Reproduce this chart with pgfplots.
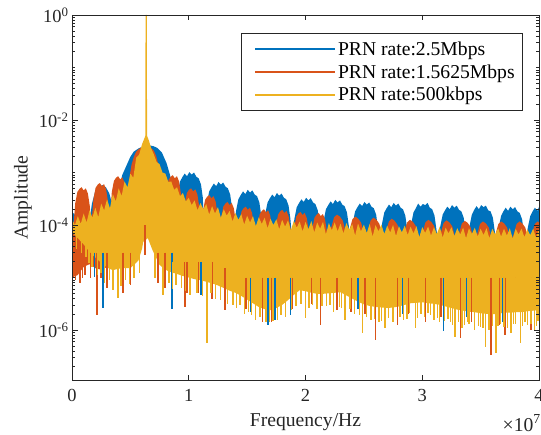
\documentclass[border=0pt]{standalone}
\usepackage{fontspec}
\setmainfont{Liberation Serif}
\usepackage{pgfplots}
\pgfplotsset{compat=1.18}
\usepgfplotslibrary{fillbetween}
\definecolor{mblue}{rgb}{0,0.447,0.741}
\definecolor{mred}{rgb}{0.850,0.325,0.098}
\definecolor{myel}{rgb}{0.929,0.694,0.125}
\definecolor{axgray}{rgb}{0.15,0.15,0.15}
\begin{document}
\begin{tikzpicture}
\begin{axis}[
  name=ax,
  scale only axis, width=467bp, height=365bp,
  xmin=0, xmax=40, ymin=1.12e-7, ymax=1,
  ymode=log,
  axis on top,
  xtick={0,10,20,30,40}, xticklabels={0,1,2,3,4},
  ytick={1e-6,1e-4,1e-2,1},
  yticklabels={{10\textsuperscript{-6}},{10\textsuperscript{-4}},{10\textsuperscript{-2}},{10\textsuperscript{0}}},
  minor ytick={2e-7,3e-7,4e-7,5e-7,6e-7,7e-7,8e-7,9e-7,2e-6,3e-6,4e-6,5e-6,6e-6,7e-6,8e-6,9e-6,1e-5,2e-5,3e-5,4e-5,5e-5,6e-5,7e-5,8e-5,9e-5,2e-4,3e-4,4e-4,5e-4,6e-4,7e-4,8e-4,9e-4,1e-3,2e-3,3e-3,4e-3,5e-3,6e-3,7e-3,8e-3,9e-3,2e-2,3e-2,4e-2,5e-2,6e-2,7e-2,8e-2,9e-2,1e-1,2e-1,3e-1,4e-1,5e-1,6e-1,7e-1,8e-1,9e-1},
  tick align=inside,
  major tick length=5.5bp, minor tick length=3bp,
  axis line style={draw=axgray, line width=0.8bp},
  every tick/.append style={draw=axgray, line width=0.6bp},
  tick label style={font=\fontsize{18.5}{22}\selectfont, text=axgray},
  xticklabel style={yshift=-6bp},
  xlabel={Frequency/Hz}, ylabel={Amplitude},
  xlabel style={at={(axis description cs:0.5,-0.0904)}, anchor=north, inner sep=0pt, font=\fontsize{19.7}{24}\selectfont, text=axgray},
  ylabel style={at={(axis description cs:-0.0857,0.5)}, anchor=south, inner sep=0pt, font=\fontsize{19.7}{24}\selectfont, text=axgray},
  legend style={at={(0.9657,0.9507)}, anchor=north east, draw=axgray, line width=0.7bp, fill=white, font=\fontsize{19.7}{23.6}\selectfont, inner xsep=6bp, inner ysep=6.5bp, row sep=3.5bp, /tikz/every even column/.append style={column sep=2bp}},
  legend cell align=left,
  legend image code/.code={\path (-7bp,0bp); \draw[#1, line width=2bp] (0bp,0bp) -- (80bp,0bp);},
]
\addlegendimage{mblue}\addlegendentry{PRN rate:2.5Mbps}
\addlegendimage{mred}\addlegendentry{PRN rate:1.5625Mbps}
\addlegendimage{myel}\addlegendentry{PRN rate:500kbps}

% ---------------- 2.5 Mbps (blue) ----------------
\addplot[name path=bt, draw=none, forget plot] coordinates {
(0,1.50e-4) (0.1,1.70e-4) (0.6,1.30e-4) (1.0,1.00e-4) (1.35,6.31e-5) (1.7,2.51e-4) (2.0,4.47e-4) (2.3,5.37e-4) (2.6,5.75e-4) (2.9,5.25e-4) (3.2,3.98e-4) (3.55,2.00e-4) (3.85,1.00e-4) (4.05,5.01e-4) (4.3,8.91e-4) (4.6,1.26e-3) (5.0,2.00e-3) (5.3,2.51e-3) (5.7,2.88e-3) (6.1,3.16e-3) (6.6,3.31e-3) (7.0,3.16e-3) (7.3,2.95e-3) (7.7,2.40e-3) (8.1,1.51e-3) (8.4,8.91e-4) (8.65,4.47e-4) (8.85,6.31e-5)
(9.05,4.07e-4) (9.25,6.76e-4) (9.45,8.13e-4) (9.65,9.55e-4) (9.85,8.51e-4) (10.05,1.02e-3) (10.25,9.12e-4) (10.45,1.00e-3) (10.65,8.32e-4) (10.85,7.76e-4) (11.05,5.89e-4) (11.2,3.39e-4) (11.35,6.31e-5)
(11.55,2.63e-4) (11.75,4.37e-4) (11.95,5.25e-4) (12.15,6.17e-4) (12.35,5.50e-4) (12.55,6.61e-4) (12.75,5.89e-4) (12.95,6.46e-4) (13.15,5.37e-4) (13.35,5.01e-4) (13.55,3.80e-4) (13.7,2.19e-4) (13.85,6.31e-5)
(14.05,1.86e-4) (14.25,3.09e-4) (14.45,3.72e-4) (14.65,4.37e-4) (14.85,3.89e-4) (15.05,4.68e-4) (15.25,4.17e-4) (15.45,4.57e-4) (15.65,3.80e-4) (15.85,3.55e-4) (16.05,2.69e-4) (16.2,1.55e-4) (16.35,5.62e-5)
(16.55,1.62e-4) (16.75,2.69e-4) (16.95,3.24e-4) (17.15,3.80e-4) (17.35,3.39e-4) (17.55,4.07e-4) (17.75,3.63e-4) (17.95,3.98e-4) (18.15,3.31e-4) (18.35,3.09e-4) (18.55,2.34e-4) (18.7,1.35e-4) (18.85,5.62e-5)
(19.05,1.32e-4) (19.25,2.19e-4) (19.45,2.63e-4) (19.65,3.09e-4) (19.85,2.75e-4) (20.05,3.31e-4) (20.25,2.95e-4) (20.45,3.24e-4) (20.65,2.69e-4) (20.85,2.51e-4) (21.05,1.91e-4) (21.2,1.10e-4) (21.35,5.01e-5)
(21.55,1.20e-4) (21.75,2.00e-4) (21.95,2.40e-4) (22.15,2.82e-4) (22.35,2.51e-4) (22.55,3.02e-4) (22.75,2.69e-4) (22.95,2.95e-4) (23.15,2.45e-4) (23.35,2.29e-4) (23.55,1.74e-4) (23.7,1.00e-4) (23.85,5.01e-5)
(24.05,1.10e-4) (24.25,1.82e-4) (24.45,2.19e-4) (24.65,2.57e-4) (24.85,2.29e-4) (25.05,2.75e-4) (25.25,2.45e-4) (25.45,2.69e-4) (25.65,2.24e-4) (25.85,2.09e-4) (26.05,1.58e-4) (26.2,9.12e-5) (26.35,5.01e-5)
(26.55,1.05e-4) (26.75,1.74e-4) (26.95,2.09e-4) (27.15,2.45e-4) (27.35,2.19e-4) (27.55,2.63e-4) (27.75,2.34e-4) (27.95,2.57e-4) (28.15,2.14e-4) (28.35,2.00e-4) (28.55,1.51e-4) (28.7,8.71e-5) (28.85,5.01e-5)
(29.05,1.05e-4) (29.25,1.74e-4) (29.45,2.09e-4) (29.65,2.57e-4) (29.85,2.24e-4) (30.05,2.51e-4) (30.25,2.40e-4) (30.45,2.63e-4) (30.65,2.14e-4) (30.85,2.00e-4) (31.05,1.51e-4) (31.2,8.71e-5) (31.35,5.01e-5)
(31.55,9.55e-5) (31.75,1.58e-4) (31.95,1.91e-4) (32.15,2.24e-4) (32.35,2.00e-4) (32.55,2.40e-4) (32.75,2.14e-4) (32.95,2.34e-4) (33.15,1.95e-4) (33.35,1.82e-4) (33.55,1.38e-4) (33.7,7.94e-5) (33.85,5.01e-5)
(34.05,9.55e-5) (34.25,1.58e-4) (34.45,1.95e-4) (34.65,2.29e-4) (34.85,2.00e-4) (35.05,2.40e-4) (35.25,2.19e-4) (35.45,2.34e-4) (35.65,1.91e-4) (35.85,1.82e-4) (36.05,1.38e-4) (36.2,7.94e-5) (36.35,5.01e-5)
(36.55,9.12e-5) (36.75,1.48e-4) (36.95,1.82e-4) (37.15,2.14e-4) (37.35,1.86e-4) (37.55,2.24e-4) (37.75,2.00e-4) (37.95,2.19e-4) (38.15,1.82e-4) (38.35,1.70e-4) (38.55,1.29e-4) (38.7,7.41e-5) (38.85,5.01e-5)
(39.05,9.12e-5) (39.25,1.48e-4) (39.45,1.82e-4) (39.65,2.14e-4) (39.85,1.86e-4) (40,2.19e-4)
};
\addplot[name path=bb, draw=none, forget plot] coordinates {
(0,2.0e-5) (1,2.0e-5) (2,1.8e-5) (3,1.9e-5) (4,2.1e-5) (5,2.2e-5) (5.5,2.7e-5) (5.7,3.0e-5) (6.0,5.0e-5) (6.1,6.8e-5) (6.5,8.0e-5) (6.9,4.7e-5) (7.5,2.5e-5) (8,2.0e-5) (9,1.7e-5) (10,1.45e-5) (11,1.3e-5) (12,1.1e-5) (13,9.1e-6) (14,7.4e-6) (15,5.5e-6) (16,4.0e-6) (17,3.5e-6) (18,4.4e-6) (19,6.8e-6) (19.5,8.3e-6) (20,7.9e-6) (21,7.1e-6) (22,7.2e-6) (23,7.6e-6) (24,5.8e-6) (25,4.5e-6) (26,4.0e-6) (27,3.8e-6) (28,4.1e-6) (29,4.7e-6) (30,4.9e-6) (31,4.6e-6) (32,4.1e-6) (33,3.5e-6) (34,3.2e-6) (35,3.0e-6) (36,2.9e-6) (37,3.1e-6) (38,3.2e-6) (39,3.3e-6) (40,3.5e-6)
};
\addplot[fill=mblue, draw=none, forget plot] fill between[of=bt and bb];
\addplot[mblue, line width=1.4bp, forget plot, unbounded coords=jump] coordinates {
(1.95,3e-5) (1.95,1.02e-5) (1.95,nan) (2.66,3e-5) (2.66,2.63e-6) (2.66,nan) (8.57,3e-5) (8.57,2.51e-6) (8.57,nan) (11.06,2e-5) (11.06,4.68e-6) (11.06,nan) (15.3,1e-5) (15.3,2.24e-6) (15.3,nan) (16.8,1e-5) (16.8,1.26e-6) (16.8,nan) (17.4,1e-5) (17.4,1.55e-6) (17.4,nan) (18.7,1e-5) (18.7,1.95e-6) (18.7,nan) (24.5,1e-5) (24.5,2.51e-6) (24.5,nan) (28.3,1e-5) (28.3,2.0e-6) (28.3,nan) (31.8,1e-5) (31.8,9.55e-7) (31.8,nan) (33.8,1e-5) (33.8,1.78e-6) (33.8,nan) (36.9,1e-5) (36.9,1.41e-6)
};

% ---------------- 1.5625 Mbps (red) ----------------
\addplot[name path=rt, draw=none, forget plot] coordinates {
(0,1.41e-4) (0.1,7.94e-5) (0.28,2.63e-4) (0.46,4.27e-4) (0.64,4.90e-4) (0.82,5.25e-4) (1.00,4.57e-4) (1.18,5.01e-4) (1.36,3.98e-4) (1.52,2.34e-4) (1.66,1.00e-4) (1.84,3.16e-4) (2.02,5.13e-4) (2.20,5.89e-4) (2.38,6.31e-4) (2.56,5.50e-4) (2.74,6.03e-4) (2.92,4.79e-4) (3.08,2.82e-4) (3.23,1.00e-4) (3.41,4.27e-4) (3.59,6.92e-4) (3.77,7.94e-4) (3.95,8.51e-4) (4.13,7.41e-4) (4.31,8.13e-4) (4.49,6.46e-4) (4.65,3.80e-4) (4.79,1.00e-4) (4.95,8.91e-4) (5.1,1.41e-3) (5.3,2.00e-3) (5.5,2.51e-3) (5.75,2.82e-3) (6.0,3.09e-3) (6.25,3.02e-3) (6.5,3.16e-3) (6.75,2.95e-3) (7.0,2.63e-3) (7.2,2.09e-3) (7.4,1.41e-3) (7.6,8.91e-4) (7.78,3.98e-4) (7.91,7.94e-5)
(8.09,4.47e-4) (8.27,7.24e-4) (8.45,8.32e-4) (8.63,8.91e-4) (8.81,7.76e-4) (8.99,8.51e-4) (9.17,6.76e-4) (9.33,3.98e-4) (9.48,6.31e-5)
(9.66,2.51e-4) (9.84,4.07e-4) (10.02,4.68e-4) (10.20,5.01e-4) (10.38,4.37e-4) (10.56,4.79e-4) (10.74,3.80e-4) (10.90,2.24e-4) (11.04,5.01e-5)
(11.22,1.86e-4) (11.40,3.02e-4) (11.58,3.47e-4) (11.76,3.72e-4) (11.94,3.24e-4) (12.12,3.55e-4) (12.30,2.82e-4) (12.46,1.66e-4) (12.60,5.01e-5)
(12.78,1.38e-4) (12.96,2.24e-4) (13.14,2.57e-4) (13.32,2.75e-4) (13.50,2.40e-4) (13.68,2.63e-4) (13.86,2.09e-4) (14.02,1.23e-4) (14.16,5.01e-5)
(14.34,1.12e-4) (14.52,1.82e-4) (14.70,2.09e-4) (14.88,2.24e-4) (15.06,1.95e-4) (15.24,2.14e-4) (15.42,1.70e-4) (15.58,1.00e-4) (15.73,5.01e-5)
(15.90,1.00e-4) (16.08,1.62e-4) (16.26,1.86e-4) (16.44,2.00e-4) (16.62,1.74e-4) (16.80,1.91e-4) (16.98,1.51e-4) (17.14,8.91e-5) (17.29,5.01e-5)
(17.47,9.77e-5) (17.65,1.58e-4) (17.83,1.82e-4) (18.01,1.95e-4) (18.19,1.70e-4) (18.37,1.86e-4) (18.55,1.48e-4) (18.71,8.71e-5) (18.85,5.01e-5)
(19.03,8.91e-5) (19.21,1.45e-4) (19.39,1.66e-4) (19.57,1.78e-4) (19.75,1.55e-4) (19.93,1.70e-4) (20.11,1.35e-4) (20.27,7.94e-5) (20.41,5.01e-5)
(20.59,8.51e-5) (20.77,1.38e-4) (20.95,1.58e-4) (21.13,1.70e-4) (21.31,1.48e-4) (21.49,1.62e-4) (21.67,1.29e-4) (21.83,7.59e-5) (21.98,5.01e-5)
(22.20,8.91e-5) (22.45,1.41e-4) (22.70,1.58e-4) (22.95,1.45e-4) (23.20,1.20e-4) (23.40,7.94e-5) (23.54,5.01e-5)
(23.77,8.13e-5) (24.02,1.29e-4) (24.27,1.45e-4) (24.52,1.32e-4) (24.77,1.10e-4) (24.97,7.24e-5) (25.10,5.01e-5)
(25.33,7.76e-5) (25.58,1.23e-4) (25.83,1.38e-4) (26.08,1.26e-4) (26.33,1.05e-4) (26.53,6.92e-5) (26.66,5.01e-5)
(26.89,7.41e-5) (27.14,1.17e-4) (27.39,1.32e-4) (27.64,1.20e-4) (27.89,1.00e-4) (28.09,6.61e-5) (28.23,5.01e-5)
(28.45,7.08e-5) (28.70,1.12e-4) (28.95,1.26e-4) (29.20,1.15e-4) (29.45,9.55e-5) (29.65,6.31e-5) (29.79,5.01e-5)
(30.02,7.08e-5) (30.27,1.12e-4) (30.52,1.26e-4) (30.77,1.15e-4) (31.02,9.55e-5) (31.22,6.31e-5) (31.35,5.01e-5)
(31.58,6.92e-5) (31.83,1.10e-4) (32.08,1.23e-4) (32.33,1.12e-4) (32.58,9.33e-5) (32.78,6.17e-5) (32.91,5.01e-5)
(33.14,6.76e-5) (33.39,1.07e-4) (33.64,1.20e-4) (33.89,1.10e-4) (34.14,9.12e-5) (34.34,6.03e-5) (34.48,5.01e-5)
(34.70,6.61e-5) (34.95,1.05e-4) (35.20,1.17e-4) (35.45,1.07e-4) (35.70,8.91e-5) (35.90,5.89e-5) (36.04,5.01e-5)
(36.27,6.61e-5) (36.52,1.05e-4) (36.77,1.17e-4) (37.02,1.07e-4) (37.27,8.91e-5) (37.47,5.89e-5) (37.60,5.01e-5)
(37.83,6.61e-5) (38.08,1.05e-4) (38.33,1.17e-4) (38.58,1.07e-4) (38.83,8.91e-5) (39.03,5.89e-5) (39.16,5.01e-5)
(39.39,6.61e-5) (39.64,1.05e-4) (39.89,1.17e-4) (40,1.12e-4)
};
\addplot[name path=rb, draw=none, forget plot] coordinates {
(0,1.00e-5) (0.5,1.12e-5) (1.0,1.60e-5) (1.5,1.80e-5) (2.0,1.51e-5) (2.5,1.41e-5) (3.0,1.58e-5) (3.5,1.66e-5) (4.0,1.78e-5) (4.5,1.82e-5) (5.0,1.82e-5) (5.5,2.29e-5) (5.7,2.57e-5) (6.0,4.27e-5) (6.1,5.75e-5) (6.5,6.76e-5) (6.9,3.98e-5) (7.5,2.09e-5) (8.0,1.70e-5) (8.5,1.51e-5) (9,1.41e-5) (9.5,1.29e-5) (10,1.20e-5) (11,1.07e-5) (12,9.33e-6) (13,7.59e-6) (14,6.17e-6) (15,4.57e-6) (16,3.31e-6) (17,2.88e-6) (18,3.63e-6) (19,5.62e-6) (19.5,6.92e-6) (20,6.61e-6) (21,5.89e-6) (22,6.03e-6) (23,6.31e-6) (24,4.79e-6) (25,3.72e-6) (26,3.31e-6) (27,3.16e-6) (28,3.39e-6) (29,3.89e-6) (30,4.07e-6) (31,3.80e-6) (32,3.39e-6) (33,2.95e-6) (34,2.69e-6) (35,2.51e-6) (36,2.40e-6) (37,2.57e-6) (38,2.63e-6) (39,2.75e-6) (40,2.88e-6)
};
\addplot[fill=mred, draw=none, forget plot] fill between[of=rt and rb];
\addplot[mred, line width=1.4bp, forget plot, unbounded coords=jump] coordinates {
(0.05,3e-5) (0.05,6.3e-6) (0.05,nan) (0.3,3e-5) (0.3,8.91e-6) (0.3,nan) (0.7,3e-5) (0.7,7.94e-6) (0.7,nan) (0.9,3e-5) (0.9,1.0e-5) (0.9,nan) (1.1,3e-5) (1.1,1.12e-5) (1.1,nan) (1.6,3e-5) (1.6,1.00e-5) (1.6,nan) (2.14,3e-5) (2.14,1.95e-6) (2.14,nan) (2.5,3e-5) (2.5,1.0e-5) (2.5,nan) (3.0,3e-5) (3.0,6.31e-6) (3.0,nan) (4.37,3e-5) (4.37,5.01e-6) (4.37,nan) (5.0,3e-5) (5.0,7.08e-6) (5.0,nan) (6.26,1e-4) (6.26,2.69e-5) (6.26,nan) (7.37,3e-5) (7.37,7.94e-6) (7.37,nan) (7.97,3e-5) (7.97,6.31e-6) (7.97,nan) (9.69,2e-5) (9.69,2.75e-6) (9.69,nan) (9.85,2e-5) (9.85,5.01e-6) (9.85,nan) (10.8,2e-5) (10.8,5.01e-6) (10.8,nan) (12.0,2e-5) (12.0,3.98e-6) (12.0,nan) (13.1,1.5e-5) (13.1,2.40e-6) (13.1,nan) (14.9,1e-5) (14.9,2.51e-6) (14.9,nan) (16.3,1e-5) (16.3,1.41e-6) (16.3,nan) (17.1,1e-5) (17.1,1.41e-6) (17.1,nan) (18.9,1e-5) (18.9,2.51e-6) (18.9,nan) (20.5,1e-5) (20.5,3.16e-6) (20.5,nan) (21.3,1e-5) (21.3,1.26e-6) (21.3,nan) (22.7,1e-5) (22.7,2.40e-6) (22.7,nan) (23.9,1e-5) (23.9,2.24e-6) (23.9,nan) (25.1,1e-5) (25.1,2.00e-6) (25.1,nan) (26.0,1e-5) (26.0,6.46e-7) (26.0,nan) (27.9,1e-5) (27.9,1.26e-6) (27.9,nan) (28.8,1e-5) (28.8,2.00e-6) (28.8,nan) (30.3,1e-5) (30.3,1.41e-6) (30.3,nan) (31.6,1e-5) (31.6,1.78e-6) (31.6,nan) (33.3,1e-5) (33.3,7.08e-7) (33.3,nan) (34.2,1e-5) (34.2,1.41e-6) (34.2,nan) (35.9,1e-5) (35.9,3.31e-7) (35.9,nan) (36.6,1e-5) (36.6,1.26e-6) (36.6,nan) (37.1,1e-5) (37.1,7.94e-7) (37.1,nan) (38.0,1e-5) (38.0,1.41e-6) (38.0,nan) (39.3,1e-5) (39.3,1.00e-6)
};

% ---------------- 500 kbps (yellow) ----------------
\addplot[name path=yt, draw=none, forget plot] coordinates {
(0,1.29e-4) (0.25,1.00e-4) (0.5,1.48e-4) (0.75,1.05e-4) (1.0,1.66e-4) (1.25,1.12e-4) (1.5,1.91e-4) (1.75,1.38e-4) (2.0,2.14e-4) (2.25,1.41e-4) (2.5,2.57e-4) (2.75,1.91e-4) (3.0,3.09e-4) (3.25,2.09e-4) (3.5,3.89e-4) (3.75,2.82e-4) (4.0,5.01e-4) (4.25,3.55e-4) (4.5,6.76e-4) (4.75,5.25e-4) (5.0,9.55e-4) (5.25,7.94e-4) (5.5,1.91e-3) (5.75,2.19e-3) (6.0,3.47e-3) (6.2,4.47e-3) (6.28,5.01e-3) (6.3,1) (6.41,1) (6.43,5.01e-3) (6.6,3.98e-3) (6.8,2.82e-3) (7.0,2.24e-3) (7.25,1.58e-3) (7.5,1.45e-3) (7.75,1.00e-3) (8.0,9.55e-4) (8.25,6.61e-4) (8.5,6.76e-4) (8.75,4.68e-4) (9.0,5.25e-4) (9.25,3.55e-4) (9.5,4.07e-4) (9.75,2.82e-4) (10.0,3.31e-4) (10.25,2.40e-4) (10.5,2.95e-4) (10.75,1.91e-4) (11.0,2.63e-4) (11.25,2.00e-4) (11.5,2.51e-4) (11.75,1.58e-4) (12.0,2.29e-4) (12.25,1.66e-4) (12.5,2.19e-4) (12.75,1.38e-4) (13.0,2.00e-4) (13.25,1.51e-4) (13.5,1.86e-4) (13.75,1.17e-4) (14.0,1.70e-4) (14.25,1.26e-4) (14.5,1.62e-4) (14.75,1.02e-4) (15.0,1.51e-4) (15.25,1.12e-4) (15.5,1.48e-4) (15.75,9.55e-5) (16.0,1.41e-4) (16.25,1.05e-4) (16.5,1.38e-4) (16.75,8.71e-5) (17.0,1.32e-4) (17.25,1.00e-4) (17.5,1.29e-4) (17.75,8.32e-5) (18.0,1.26e-4) (18.25,9.33e-5) (18.5,1.23e-4) (18.75,7.94e-5) (19.0,1.20e-4) (19.25,8.91e-5) (19.5,1.17e-4) (19.75,7.59e-5)
(20.0,1.15e-4) (20.25,8.32e-5) (20.5,1.20e-4) (20.75,7.24e-5) (21.0,1.12e-4) (21.25,8.51e-5) (21.5,1.15e-4) (21.75,6.61e-5) (22.0,1.10e-4) (22.25,7.94e-5) (22.5,1.12e-4) (22.75,7.59e-5) (23.0,1.07e-4) (23.25,6.92e-5) (23.5,1.10e-4) (23.75,8.13e-5) (24.0,1.05e-4) (24.25,6.31e-5) (24.5,1.07e-4) (24.75,7.59e-5) (25.0,1.02e-4) (25.25,7.08e-5) (25.5,1.05e-4) (25.75,6.03e-5) (26.0,1.00e-4) (26.25,7.59e-5) (26.5,1.02e-4) (26.75,6.76e-5) (27.0,9.77e-5) (27.25,7.24e-5) (27.5,1.00e-4) (27.75,6.17e-5) (28.0,9.55e-5) (28.25,7.24e-5) (28.5,9.77e-5) (28.75,6.46e-5) (29.0,9.33e-5) (29.25,6.92e-5) (29.5,9.55e-5) (29.75,5.89e-5)
(30.0,9.12e-5) (30.25,7.08e-5) (30.5,9.33e-5) (30.75,6.31e-5) (31.0,9.12e-5) (31.25,6.76e-5) (31.5,9.33e-5) (31.75,5.75e-5) (32.0,8.91e-5) (32.25,6.92e-5) (32.5,9.12e-5) (32.75,6.17e-5) (33.0,8.71e-5) (33.25,6.61e-5) (33.5,8.91e-5) (33.75,5.62e-5) (34.0,8.71e-5) (34.25,6.76e-5) (34.5,8.91e-5) (34.75,6.03e-5) (35.0,8.51e-5) (35.25,6.46e-5) (35.5,8.71e-5) (35.75,5.62e-5) (36.0,8.51e-5) (36.25,6.61e-5) (36.5,8.71e-5) (36.75,6.03e-5) (37.0,8.51e-5) (37.25,6.31e-5) (37.5,8.71e-5) (37.75,5.50e-5) (38.0,8.51e-5) (38.25,6.61e-5) (38.5,8.51e-5) (38.75,5.89e-5) (39.0,8.32e-5) (39.25,6.46e-5) (39.5,8.51e-5) (39.75,5.75e-5) (40.0,8.32e-5)
};
\addplot[name path=yb, draw=none, forget plot] coordinates {
(0,7.41e-5) (0.5,5.62e-5) (1.0,4.27e-5) (1.5,3.09e-5) (2.0,2.40e-5) (2.5,1.91e-5) (3.0,1.55e-5) (3.5,1.38e-5) (4.0,1.48e-5) (4.5,1.51e-5) (5.0,1.51e-5) (5.5,1.91e-5) (5.7,2.14e-5) (6.0,3.55e-5) (6.1,4.79e-5) (6.5,5.62e-5) (6.9,3.31e-5) (7.5,1.74e-5) (8.0,1.41e-5) (8.5,1.26e-5) (9.0,1.17e-5) (9.5,1.07e-5) (10,1.00e-5) (10.5,9.33e-6) (11,8.91e-6) (11.5,8.32e-6) (12,7.76e-6) (12.5,7.08e-6) (13,6.31e-6) (13.5,5.62e-6) (14,5.13e-6) (14.5,4.47e-6) (15,3.80e-6) (15.5,3.24e-6) (16,2.75e-6) (16.5,2.51e-6) (17,2.40e-6) (17.5,2.63e-6) (18,3.02e-6) (18.5,3.72e-6) (19,4.68e-6) (19.5,5.75e-6) (20,5.50e-6) (20.5,5.13e-6) (21,4.90e-6) (21.5,4.90e-6) (22,5.01e-6) (22.5,5.13e-6) (23,5.25e-6) (23.5,4.57e-6) (24,3.98e-6) (24.5,3.47e-6) (25,3.09e-6) (25.5,2.88e-6) (26,2.75e-6) (26.5,2.69e-6) (27,2.63e-6) (27.5,2.69e-6) (28,2.82e-6) (28.5,3.02e-6) (29,3.24e-6) (29.5,3.31e-6) (30,3.39e-6) (30.5,3.24e-6) (31,3.16e-6) (31.5,3.02e-6) (32,2.82e-6) (32.5,2.63e-6) (33,2.45e-6) (33.5,2.34e-6) (34,2.24e-6) (34.5,2.19e-6) (35,2.09e-6) (35.5,2.04e-6) (36,2.00e-6) (36.5,2.04e-6) (37,2.14e-6) (37.5,2.14e-6) (38,2.19e-6) (38.5,2.19e-6) (39,2.29e-6) (39.5,2.34e-6) (40,2.40e-6)
};
\addplot[fill=myel, draw=none, forget plot] fill between[of=yt and yb];
\addplot[myel, line width=1.4bp, forget plot, unbounded coords=jump] coordinates {
(0.4,8e-5) (0.4,3.5e-5) (0.4,nan) (1.2,6e-5) (1.2,2.51e-5) (1.2,nan) (1.7,4e-5) (1.7,1.6e-5) (1.7,nan) (2.2,4e-5) (2.2,1.12e-5) (2.2,nan) (2.8,3e-5) (2.8,8e-6) (2.8,nan) (3.5,3e-5) (3.5,5.75e-6) (3.5,nan) (3.95,3e-5) (3.95,4.07e-6) (3.95,nan) (4.6,3e-5) (4.6,8.91e-6) (4.6,nan) (5.3,3e-5) (5.3,1.00e-5) (5.3,nan) (5.8,5e-5) (5.8,1.2e-5) (5.8,nan) (7.8,3e-5) (7.8,4.68e-6) (7.8,nan) (8.3,2e-5) (8.3,8e-6) (8.3,nan) (8.9,2e-5) (8.9,7.08e-6) (8.9,nan) (9.4,2e-5) (9.4,6.31e-6) (9.4,nan) (10.1,2e-5) (10.1,4.68e-6) (10.1,nan) (10.7,2e-5) (10.7,5e-6) (10.7,nan) (11.57,2e-5) (11.57,5.62e-7) (11.57,nan) (11.9,2e-5) (11.9,5e-6) (11.9,nan) (12.3,1.5e-5) (12.3,3.98e-6) (12.3,nan) (13.3,1.5e-5) (13.3,3.16e-6) (13.3,nan) (13.8,1e-5) (13.8,3e-6) (13.8,nan) (14.4,1e-5) (14.4,3.02e-6) (14.4,nan) (15.1,1e-5) (15.1,2.2e-6) (15.1,nan) (15.7,1e-5) (15.7,1.58e-6) (15.7,nan) (16.1,1e-5) (16.1,1.8e-6) (16.1,nan) (16.6,1e-5) (16.6,1.41e-6) (16.6,nan) (17.2,1e-5) (17.2,1.5e-6) (17.2,nan) (17.6,1e-5) (17.6,1.58e-6) (17.6,nan) (18.3,1e-5) (18.3,1.78e-6) (18.3,nan) (18.8,1e-5) (18.8,2.4e-6) (18.8,nan) (19.2,1e-5) (19.2,2.82e-6) (19.2,nan) (20.0,1e-5) (20.0,1.70e-6) (20.0,nan) (20.6,1e-5) (20.6,3e-6) (20.6,nan) (21.0,1e-5) (21.0,2.51e-6) (21.0,nan) (21.8,1e-5) (21.8,2.82e-6) (21.8,nan) (22.4,1e-5) (22.4,2.24e-6) (22.4,nan) (22.9,1e-5) (22.9,2.8e-6) (22.9,nan) (23.4,1e-5) (23.4,1.55e-6) (23.4,nan) (23.8,1e-5) (23.8,2.5e-6) (23.8,nan) (24.2,1e-5) (24.2,2.00e-6) (24.2,nan) (24.9,1e-5) (24.9,8.71e-7) (24.9,nan) (25.2,1e-5) (25.2,1.8e-6) (25.2,nan) (25.6,1e-5) (25.6,1.58e-6) (25.6,nan) (26.3,1e-5) (26.3,1.41e-6) (26.3,nan) (26.8,1e-5) (26.8,1.10e-6) (26.8,nan) (27.1,1e-5) (27.1,1.7e-6) (27.1,nan) (27.5,1e-5) (27.5,1.41e-6) (27.5,nan) (28.4,1e-5) (28.4,1.58e-6) (28.4,nan) (28.9,1e-5) (28.9,2.1e-6) (28.9,nan) (29.4,1e-5) (29.4,1.10e-6) (29.4,nan) (29.9,1e-5) (29.9,2.0e-6) (29.9,nan) (30.2,1e-5) (30.2,1.78e-6) (30.2,nan) (30.7,1e-5) (30.7,1.9e-6) (30.7,nan) (31.0,1e-5) (31.0,1.58e-6) (31.0,nan) (31.5,1e-5) (31.5,1.41e-6) (31.5,nan) (32.2,1e-5) (32.2,1.6e-6) (32.2,nan) (32.6,1e-5) (32.6,1.26e-6) (32.6,nan) (32.8,1e-5) (32.8,7.41e-7) (32.8,nan) (33.1,1e-5) (33.1,1.4e-6) (33.1,nan) (33.6,1e-5) (33.6,1.26e-6) (33.6,nan) (34.0,1e-5) (34.0,1.3e-6) (34.0,nan) (34.5,1e-5) (34.5,1.00e-6) (34.5,nan) (35.0,1e-5) (35.0,1.12e-6) (35.0,nan) (35.4,1e-5) (35.4,4.79e-7) (35.4,nan) (36.0,1e-5) (36.0,1.2e-6) (36.0,nan) (36.3,1e-5) (36.3,3.63e-7) (36.3,nan) (36.7,1e-5) (36.7,1.3e-6) (36.7,nan) (37.0,1e-5) (37.0,1.12e-6) (37.0,nan) (37.6,1e-5) (37.6,8.91e-7) (37.6,nan) (38.0,1e-5) (38.0,1.3e-6) (38.0,nan) (38.4,1e-5) (38.4,5.62e-7) (38.4,nan) (38.8,1e-5) (38.8,1.4e-6) (38.8,nan) (39.0,1e-5) (39.0,1.26e-6) (39.0,nan) (39.6,1e-5) (39.6,1.00e-6) (39.6,nan) (39.9,1e-5) (39.9,1.5e-6) (39.9,nan)
(0.8,6e-5) (0.8,3.0e-5) (0.8,nan) (1.45,5e-5) (1.45,1.9e-5) (1.45,nan) (2.5,4e-5) (2.5,1.2e-5) (2.5,nan) (3.2,3e-5) (3.2,9e-6) (3.2,nan) (4.2,3e-5) (4.2,7e-6) (4.2,nan) (4.9,3e-5) (4.9,7.5e-6) (4.9,nan) (7.1,4e-5) (7.1,1.0e-5) (7.1,nan) (8.6,2e-5) (8.6,6e-6) (8.6,nan) (9.7,2e-5) (9.7,5.5e-6) (9.7,nan) (11.2,2e-5) (11.2,4.5e-6) (11.2,nan) (12.7,1.5e-5) (12.7,3.8e-6) (12.7,nan) (14.1,1e-5) (14.1,2.6e-6) (14.1,nan) (14.8,1e-5) (14.8,2.0e-6) (14.8,nan) (15.4,1e-5) (15.4,1.9e-6) (15.4,nan) (16.9,1e-5) (16.9,1.4e-6) (16.9,nan) (17.9,1e-5) (17.9,1.9e-6) (17.9,nan) (19.6,1e-5) (19.6,3.2e-6) (19.6,nan) (20.3,1e-5) (20.3,2.6e-6) (20.3,nan) (21.4,1e-5) (21.4,2.9e-6) (21.4,nan) (22.1,1e-5) (22.1,3.0e-6) (22.1,nan) (23.1,1e-5) (23.1,2.6e-6) (23.1,nan) (24.6,1e-5) (24.6,1.9e-6) (24.6,nan) (25.9,1e-5) (25.9,1.6e-6) (25.9,nan) (26.5,1e-5) (26.5,1.5e-6) (26.5,nan) (28.1,1e-5) (28.1,1.8e-6) (28.1,nan) (28.7,1e-5) (28.7,1.6e-6) (28.7,nan) (29.6,1e-5) (29.6,1.7e-6) (29.6,nan) (30.5,1e-5) (30.5,2.1e-6) (30.5,nan) (31.3,1e-5) (31.3,1.7e-6) (31.3,nan) (31.9,1e-5) (31.9,1.5e-6) (31.9,nan) (32.4,1e-5) (32.4,1.4e-6) (32.4,nan) (33.4,1e-5) (33.4,1.1e-6) (33.4,nan) (33.9,1e-5) (33.9,1.4e-6) (33.9,nan) (34.8,1e-5) (34.8,1.2e-6) (34.8,nan) (35.2,1e-5) (35.2,1.1e-6) (35.2,nan) (35.7,1e-5) (35.7,1.0e-6) (35.7,nan) (36.5,1e-5) (36.5,1.2e-6) (36.5,nan) (37.3,1e-5) (37.3,1.1e-6) (37.3,nan) (37.8,1e-5) (37.8,1.3e-6) (37.8,nan) (38.6,1e-5) (38.6,1.2e-6) (38.6,nan) (39.3,1e-5) (39.3,1.3e-6) (39.3,nan) (39.8,1e-5) (39.8,1.2e-6)
};
\end{axis}
\node[anchor=base east, inner sep=0pt, font=\fontsize{19.7}{24}\selectfont, text=axgray] at ([xshift=2bp,yshift=-51bp]ax.south east) {×10\textsuperscript{7}};
\pgfresetboundingbox
\path[use as bounding box] ([xshift=-72bp,yshift=-55bp]ax.south west) rectangle ([xshift=2bp,yshift=15bp]ax.north east);
\end{tikzpicture}
\end{document}
